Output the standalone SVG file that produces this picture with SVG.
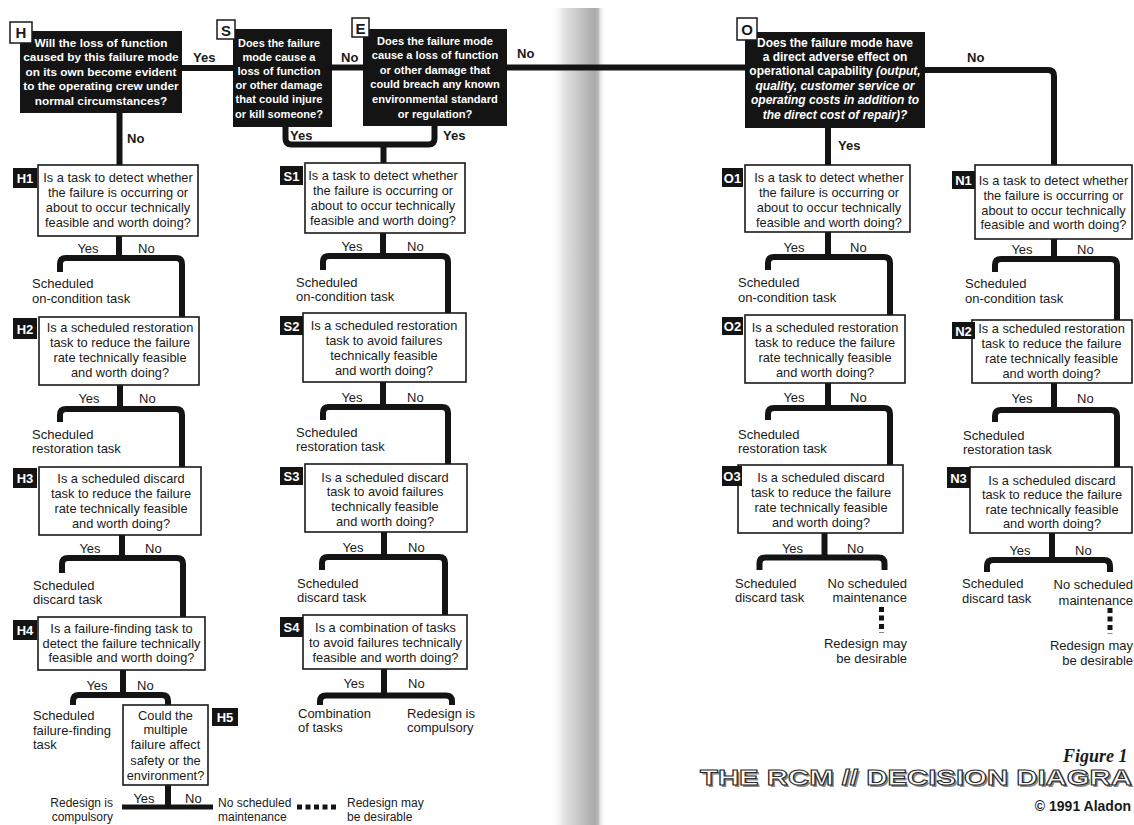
<svg xmlns="http://www.w3.org/2000/svg" width="1134" height="825" viewBox="0 0 1134 825">
<defs>
<linearGradient id="gutter" x1="0" y1="0" x2="1" y2="0">
<stop offset="0" stop-color="#ffffff" stop-opacity="0"/>
<stop offset="0.25" stop-color="#e2e2e2"/>
<stop offset="0.55" stop-color="#c4c4c4"/>
<stop offset="0.8" stop-color="#a9a9a9"/>
<stop offset="0.86" stop-color="#b8b8b8"/>
<stop offset="0.9" stop-color="#e6e6e6"/>
<stop offset="1" stop-color="#ffffff" stop-opacity="0"/>
</linearGradient>
<style>
.bx{fill:#fff;stroke:#1a1a1a;stroke-width:1.6}
.bk{fill:#141414}
.tw{fill:#fff;stroke:#1a1a1a;stroke-width:1.5}
.c{fill:none;stroke:#141414;stroke-width:6;stroke-linejoin:round}
.dot{fill:none;stroke:#141414;stroke-width:5;stroke-dasharray:5 3.5}
text{font-family:"Liberation Sans",Arial,Helvetica,sans-serif;fill:#1a1a1a}
.q{font-size:12.8px;text-anchor:middle}
.qb{font-weight:bold;fill:#fff;text-anchor:middle}
.t{font-size:13px}
.tb{font-size:12px}
.yn{font-size:13px}
.m{text-anchor:middle}
.r{text-anchor:end}
.ynb{font-size:13px;font-weight:bold}
.tag{font-size:13px;font-weight:bold;fill:#fff;text-anchor:middle}
.tagk{font-size:15px;font-weight:bold;text-anchor:middle}
</style>
</defs>
<rect x="0" y="0" width="1134" height="825" fill="#fff"/>
<rect x="550" y="8" width="56" height="817" fill="url(#gutter)"/>

<g id="connectors">
<path class="c" d="M182 68 H233"/>
<path class="c" d="M332 67.5 H363"/>
<path class="c" d="M507 67.5 H745"/>
<path class="c" d="M119.5 113 V165"/>
<path class="c" d="M285.5 127 V138.5 Q285.5 144.5 291.5 144.5 H428.5 Q434.5 144.5 434.5 138.5 V126"/>
<path class="c" d="M383.5 144.5 V163"/>
<path class="c" d="M828 128 V165"/>
<path class="c" d="M925 70 H1048 Q1054 70 1054 76 V165"/>
<path class="c" d="M119 236 V258"/>
<path class="c" d="M60 272 V264 Q60 258 66 258 H176 Q182 258 182 264 V317"/>
<path class="c" d="M120 385 V409"/>
<path class="c" d="M60 422 V415 Q60 409 66 409 H176 Q182 409 182 415 V467"/>
<path class="c" d="M122 535 V558"/>
<path class="c" d="M62 573 V564 Q62 558 68 558 H177 Q183 558 183 564 V617"/>
<path class="c" d="M123 670 V695"/>
<path class="c" d="M73 705 V701 Q73 695 79 695 H162 Q168 695 168 701 V705"/>
<path class="c" d="M168 785 V807"/>
<path class="c" d="M122 807 H213" style="stroke-width:5"/>
<path class="dot" d="M297 807 H337"/>
<path class="c" d="M383 233 V256"/>
<path class="c" d="M323 270 V262 Q323 256 329 256 H442 Q448 256 448 262 V313"/>
<path class="c" d="M383 382 V407"/>
<path class="c" d="M323 420 V413 Q323 407 329 407 H442 Q448 407 448 413 V464"/>
<path class="c" d="M384 532 V557"/>
<path class="c" d="M322 570 V563 Q322 557 328 557 H439 Q445 557 445 563 V615"/>
<path class="c" d="M384 669 V695.5"/>
<path class="c" d="M320 705 V701.5 Q320 695.5 326 695.5 H446 Q452 695.5 452 701.5 V705"/>
<path class="c" d="M828 232 V257"/>
<path class="c" d="M768 270 V263 Q768 257 774 257 H884 Q890 257 890 263 V315"/>
<path class="c" d="M828 383 V408"/>
<path class="c" d="M768 420 V414 Q768 408 774 408 H884 Q890 408 890 414 V465"/>
<path class="c" d="M824.5 533 V557.5"/>
<path class="c" d="M759.5 570 V563.5 Q759.5 557.5 765.5 557.5 H878.5 Q884.5 557.5 884.5 563.5 V570"/>
<path class="dot" d="M881.5 607 V633"/>
<path class="c" d="M1054 239 V259"/>
<path class="c" d="M995 272 V265 Q995 259 1001 259 H1111 Q1117 259 1117 265 V320"/>
<path class="c" d="M1054 383 V410"/>
<path class="c" d="M995 422 V416 Q995 410 1001 410 H1111 Q1117 410 1117 416 V467"/>
<path class="c" d="M1052 533 V560"/>
<path class="c" d="M987 572 V566 Q987 560 993 560 H1104 Q1110 560 1110 566 V572"/>
<path class="dot" d="M1110 608 V634"/>
</g>

<g id="branch-labels">
<text class="ynb" x="193" y="62">Yes</text>
<text class="ynb" x="127" y="142.5">No</text>
<text class="ynb" x="341" y="61.5">No</text>
<text class="ynb" x="517" y="57.5">No</text>
<text class="ynb" x="290" y="139.5">Yes</text>
<text class="ynb" x="443" y="139.5">Yes</text>
<text class="ynb" x="967" y="61.5">No</text>
<text class="ynb" x="838" y="149.5">Yes</text>
</g>

<g id="H" style="font-size:11.8px">
<rect class="bk" x="20" y="31" width="162" height="82"/>
<rect class="tw" x="10" y="22" width="22" height="21"/>
<text class="tagk" x="21" y="38">H</text>
<text class="qb" x="101" y="46.5">Will the loss of function</text>
<text class="qb" x="101" y="61">caused by this failure mode</text>
<text class="qb" x="101" y="75.5">on its own become evident</text>
<text class="qb" x="101" y="90">to the operating crew under</text>
<text class="qb" x="101" y="104.5">normal circumstances?</text>
</g>

<g id="S" style="font-size:11.2px">
<rect class="bk" x="233" y="29" width="99" height="98"/>
<rect class="tw" x="217" y="20" width="18" height="19"/>
<text class="tagk" x="226" y="35.5">S</text>
<text class="qb" x="279" y="46.5" textLength="82" lengthAdjust="spacingAndGlyphs">Does the failure</text>
<text class="qb" x="279" y="60.7" textLength="73" lengthAdjust="spacingAndGlyphs">mode cause a</text>
<text class="qb" x="279" y="74.9" textLength="83" lengthAdjust="spacingAndGlyphs">loss of function</text>
<text class="qb" x="279" y="89.1" textLength="87" lengthAdjust="spacingAndGlyphs">or other damage</text>
<text class="qb" x="279" y="103.3" textLength="87" lengthAdjust="spacingAndGlyphs">that could injure</text>
<text class="qb" x="279" y="117.5" textLength="88" lengthAdjust="spacingAndGlyphs">or kill someone?</text>
</g>

<g id="E" style="font-size:11.1px">
<rect class="bk" x="363" y="29" width="144" height="97"/>
<rect class="tw" x="352" y="18" width="17" height="19"/>
<text class="tagk" x="360.5" y="33.5">E</text>
<text class="qb" x="435" y="44.5">Does the failure mode</text>
<text class="qb" x="435" y="59.1">cause a loss of function</text>
<text class="qb" x="435" y="73.7">or other damage that</text>
<text class="qb" x="435" y="88.3">could breach any known</text>
<text class="qb" x="435" y="102.9">environmental standard</text>
<text class="qb" x="435" y="117.5">or regulation?</text>
</g>

<g id="O" style="font-size:12px">
<rect class="bk" x="745" y="32" width="180" height="96"/>
<rect class="tw" x="737" y="18" width="20" height="22"/>
<text class="tagk" x="747" y="35">O</text>
<text class="qb" x="835" y="46.5">Does the failure mode have</text>
<text class="qb" x="835" y="60.9">a direct adverse effect on</text>
<text class="qb" x="835" y="75.3">operational capability <tspan font-style="italic">(output,</tspan></text>
<text class="qb" x="835" y="89.7" font-style="italic">quality, customer service or</text>
<text class="qb" x="835" y="104.1" font-style="italic">operating costs in addition to</text>
<text class="qb" x="835" y="118.5" font-style="italic">the direct cost of repair)?</text>
</g>

<g id="H1">
<rect class="bx" x="38" y="165" width="160" height="71"/>
<rect class="bk" x="13" y="168" width="24" height="20"/>
<text class="tag" x="25" y="183">H1</text>
<text class="q" x="118" y="181.5">Is a task to detect whether</text>
<text class="q" x="118" y="196.5">the failure is occurring or</text>
<text class="q" x="118" y="211.5">about to occur technically</text>
<text class="q" x="118" y="226.5">feasible and worth doing?</text>
<text class="yn m" x="88" y="252.5">Yes</text>
<text class="yn" x="138" y="252.5">No</text>
<text class="t" x="32" y="287.5">Scheduled</text>
<text class="t" x="32" y="302.5">on-condition task</text>
</g>

<g id="H2">
<rect class="bx" x="39" y="317" width="160" height="68"/>
<rect class="bk" x="13" y="318" width="24" height="21"/>
<text class="tag" x="25" y="333.5">H2</text>
<text class="q" x="120" y="331.5">Is a scheduled restoration</text>
<text class="q" x="120" y="346.5">task to reduce the failure</text>
<text class="q" x="120" y="361.5">rate technically feasible</text>
<text class="q" x="120" y="376.5">and worth doing?</text>
<text class="yn m" x="89" y="402.5">Yes</text>
<text class="yn" x="139" y="402.5">No</text>
<text class="t" x="32" y="438.5">Scheduled</text>
<text class="t" x="32" y="453">restoration task</text>
</g>

<g id="H3">
<rect class="bx" x="39" y="467" width="162" height="68"/>
<rect class="bk" x="13" y="468" width="24" height="20"/>
<text class="tag" x="25" y="483">H3</text>
<text class="q" x="121" y="482.5">Is a scheduled discard</text>
<text class="q" x="121" y="497.5">task to reduce the failure</text>
<text class="q" x="121" y="512.5">rate technically feasible</text>
<text class="q" x="121" y="527.5">and worth doing?</text>
<text class="yn m" x="90" y="552.5">Yes</text>
<text class="yn" x="145" y="552.5">No</text>
<text class="t" x="33" y="589.5">Scheduled</text>
<text class="t" x="33" y="603.5">discard task</text>
</g>

<g id="H4">
<rect class="bx" x="38" y="617" width="167" height="53"/>
<rect class="bk" x="13" y="620" width="24" height="20"/>
<text class="tag" x="25" y="635">H4</text>
<text class="q" x="121.5" y="632.5">Is a failure-finding task to</text>
<text class="q" x="121.5" y="647.5">detect the failure technically</text>
<text class="q" x="121.5" y="661.5">feasible and worth doing?</text>
<text class="yn m" x="97" y="689.5">Yes</text>
<text class="yn" x="137" y="689.5">No</text>
<text class="t" x="33" y="719.5">Scheduled</text>
<text class="t" x="33" y="734.5">failure-finding</text>
<text class="t" x="33" y="749">task</text>
</g>

<g id="H5">
<rect class="bx" x="123" y="705" width="85" height="80"/>
<rect class="bk" x="212" y="708" width="26" height="18"/>
<text class="tag" x="225" y="722">H5</text>
<text class="q" x="165.5" y="719.5">Could the</text>
<text class="q" x="165.5" y="734">multiple</text>
<text class="q" x="165.5" y="749">failure affect</text>
<text class="q" x="165.5" y="764.5">safety or the</text>
<text class="q" x="165.5" y="779.5">environment?</text>
<text class="yn m" x="144" y="802.5">Yes</text>
<text class="yn" x="185" y="802.5">No</text>
<text class="tb r" x="113" y="807">Redesign is</text>
<text class="tb r" x="113" y="821">compulsory</text>
<text class="tb" x="218" y="807">No scheduled</text>
<text class="tb" x="218" y="821">maintenance</text>
<text class="tb" x="347" y="807">Redesign may</text>
<text class="tb" x="347" y="821">be desirable</text>
</g>

<g id="S1">
<rect class="bx" x="305" y="163" width="160" height="70"/>
<rect class="bk" x="280" y="166" width="23" height="19"/>
<text class="tag" x="291.5" y="180.5">S1</text>
<text class="q" x="383" y="179.5">Is a task to detect whether</text>
<text class="q" x="383" y="194.5">the failure is occurring or</text>
<text class="q" x="383" y="209.5">about to occur technically</text>
<text class="q" x="383" y="224.5">feasible and worth doing?</text>
<text class="yn m" x="352" y="250.5">Yes</text>
<text class="yn" x="407" y="250.5">No</text>
<text class="t" x="296" y="286.5">Scheduled</text>
<text class="t" x="296" y="300.5">on-condition task</text>
</g>

<g id="S2">
<rect class="bx" x="303" y="313" width="163" height="69"/>
<rect class="bk" x="280" y="316" width="23" height="19"/>
<text class="tag" x="291.5" y="330.5">S2</text>
<text class="q" x="384" y="329.5">Is a scheduled restoration</text>
<text class="q" x="384" y="344.5">task to avoid failures</text>
<text class="q" x="384" y="359.5">technically feasible</text>
<text class="q" x="384" y="374.5">and worth doing?</text>
<text class="yn m" x="352" y="401.5">Yes</text>
<text class="yn" x="407" y="401.5">No</text>
<text class="t" x="296" y="436.5">Scheduled</text>
<text class="t" x="296" y="451">restoration task</text>
</g>

<g id="S3">
<rect class="bx" x="305" y="464" width="162" height="68"/>
<rect class="bk" x="280" y="467" width="23" height="18"/>
<text class="tag" x="291.5" y="481">S3</text>
<text class="q" x="385" y="481.5">Is a scheduled discard</text>
<text class="q" x="385" y="496.3">task to avoid failures</text>
<text class="q" x="385" y="511.1">technically feasible</text>
<text class="q" x="385" y="525.9">and worth doing?</text>
<text class="yn m" x="353" y="551.5">Yes</text>
<text class="yn" x="408" y="551.5">No</text>
<text class="t" x="297" y="587.5">Scheduled</text>
<text class="t" x="297" y="601.5">discard task</text>
</g>

<g id="S4">
<rect class="bx" x="303" y="615" width="164" height="54"/>
<rect class="bk" x="280" y="617" width="23" height="20"/>
<text class="tag" x="291.5" y="632">S4</text>
<text class="q" x="385.5" y="631.5">Is a combination of tasks</text>
<text class="q" x="385.5" y="646.5">to avoid failures technically</text>
<text class="q" x="385.5" y="661.5">feasible and worth doing?</text>
<text class="yn m" x="354" y="687.5">Yes</text>
<text class="yn" x="408" y="687.5">No</text>
<text class="t" x="298" y="717.5">Combination</text>
<text class="t" x="298" y="731.5">of tasks</text>
<text class="t" x="407" y="717.5">Redesign is</text>
<text class="t" x="407" y="731.5">compulsory</text>
</g>

<g id="O1">
<rect class="bx" x="745" y="165" width="165" height="67"/>
<rect class="bk" x="722" y="168" width="21" height="19"/>
<text class="tag" x="732.5" y="182.5">O1</text>
<text class="q" x="829" y="181.5">Is a task to detect whether</text>
<text class="q" x="829" y="196.5">the failure is occurring or</text>
<text class="q" x="829" y="211.5">about to occur technically</text>
<text class="q" x="829" y="226.5">feasible and worth doing?</text>
<text class="yn m" x="794" y="251.5">Yes</text>
<text class="yn" x="850" y="251.5">No</text>
<text class="t" x="738" y="286.5">Scheduled</text>
<text class="t" x="738" y="301.5">on-condition task</text>
</g>

<g id="O2">
<rect class="bx" x="745" y="315" width="160" height="68"/>
<rect class="bk" x="722" y="317" width="21" height="18"/>
<text class="tag" x="732.5" y="331">O2</text>
<text class="q" x="825" y="331.5">Is a scheduled restoration</text>
<text class="q" x="825" y="346.5">task to reduce the failure</text>
<text class="q" x="825" y="361.5">rate technically feasible</text>
<text class="q" x="825" y="376.5">and worth doing?</text>
<text class="yn m" x="794" y="401.5">Yes</text>
<text class="yn" x="850" y="401.5">No</text>
<text class="t" x="738" y="438.5">Scheduled</text>
<text class="t" x="738" y="452.5">restoration task</text>
</g>

<g id="O3">
<rect class="bx" x="738" y="465" width="165" height="68"/>
<rect class="bk" x="722" y="466" width="20" height="20"/>
<text class="tag" x="732" y="481">O3</text>
<text class="q" x="821" y="481.5">Is a scheduled discard</text>
<text class="q" x="821" y="496.5">task to reduce the failure</text>
<text class="q" x="821" y="511.5">rate technically feasible</text>
<text class="q" x="821" y="526.5">and worth doing?</text>
<text class="yn m" x="792.5" y="552.5">Yes</text>
<text class="yn" x="847" y="552.5">No</text>
<text class="t" x="735" y="587.5">Scheduled</text>
<text class="t" x="735" y="601.5">discard task</text>
<text class="t r" x="907" y="587.5">No scheduled</text>
<text class="t r" x="907" y="601.5">maintenance</text>
<text class="t r" x="907" y="647.5">Redesign may</text>
<text class="t r" x="907" y="662.5">be desirable</text>
</g>

<g id="N1">
<rect class="bx" x="975" y="165" width="157" height="74"/>
<rect class="bk" x="952" y="171" width="23" height="18"/>
<text class="tag" x="963.5" y="185">N1</text>
<text class="q" x="1053.5" y="184.5">Is a task to detect whether</text>
<text class="q" x="1053.5" y="199.5">the failure is occurring or</text>
<text class="q" x="1053.5" y="214.5">about to occur technically</text>
<text class="q" x="1053.5" y="228.5">feasible and worth doing?</text>
<text class="yn m" x="1022" y="253.5">Yes</text>
<text class="yn" x="1077" y="253.5">No</text>
<text class="t" x="965" y="287.5">Scheduled</text>
<text class="t" x="965" y="302.5">on-condition task</text>
</g>

<g id="N2">
<rect class="bx" x="972" y="320" width="160" height="63"/>
<rect class="bk" x="952" y="322" width="23" height="17"/>
<text class="tag" x="963.5" y="335.5">N2</text>
<text class="q" x="1051.5" y="332.5">Is a scheduled restoration</text>
<text class="q" x="1051.5" y="347.5">task to reduce the failure</text>
<text class="q" x="1051.5" y="362.5">rate technically feasible</text>
<text class="q" x="1051.5" y="377.5">and worth doing?</text>
<text class="yn m" x="1022" y="402.5">Yes</text>
<text class="yn" x="1077" y="402.5">No</text>
<text class="t" x="963" y="439.5">Scheduled</text>
<text class="t" x="963" y="454">restoration task</text>
</g>

<g id="N3">
<rect class="bx" x="970" y="467" width="162" height="66"/>
<rect class="bk" x="947" y="467" width="23" height="21"/>
<text class="tag" x="958.5" y="482.5">N3</text>
<text class="q" x="1052" y="484.5">Is a scheduled discard</text>
<text class="q" x="1052" y="499">task to reduce the failure</text>
<text class="q" x="1052" y="513.5">rate technically feasible</text>
<text class="q" x="1052" y="528">and worth doing?</text>
<text class="yn m" x="1020" y="554.5">Yes</text>
<text class="yn" x="1075" y="554.5">No</text>
<text class="t" x="962" y="587.5">Scheduled</text>
<text class="t" x="962" y="602.5">discard task</text>
<text class="t r" x="1133" y="588.5">No scheduled</text>
<text class="t r" x="1133" y="604.5">maintenance</text>
<text class="t r" x="1133" y="649.5">Redesign may</text>
<text class="t r" x="1133" y="664.5">be desirable</text>
</g>

<g id="title">
<text x="1063" y="762" style="font-family:'Liberation Serif','Times New Roman',serif;font-size:18px;font-weight:bold;font-style:italic">Figure 1</text>
<text x="702" y="787" textLength="432" lengthAdjust="spacingAndGlyphs" style="font-size:22px;font-weight:bold;fill:#8a8a8a">THE RCM // DECISION DIAGRA</text>
<text x="700" y="785" textLength="432" lengthAdjust="spacingAndGlyphs" style="font-size:22px;font-weight:bold;fill:#fff;stroke:#2a2a2a;stroke-width:1">THE RCM // DECISION DIAGRA</text>
<text class="r" x="1131" y="810.5" style="font-size:14px;font-weight:bold">© 1991 Aladon</text>
</g>
</svg>
